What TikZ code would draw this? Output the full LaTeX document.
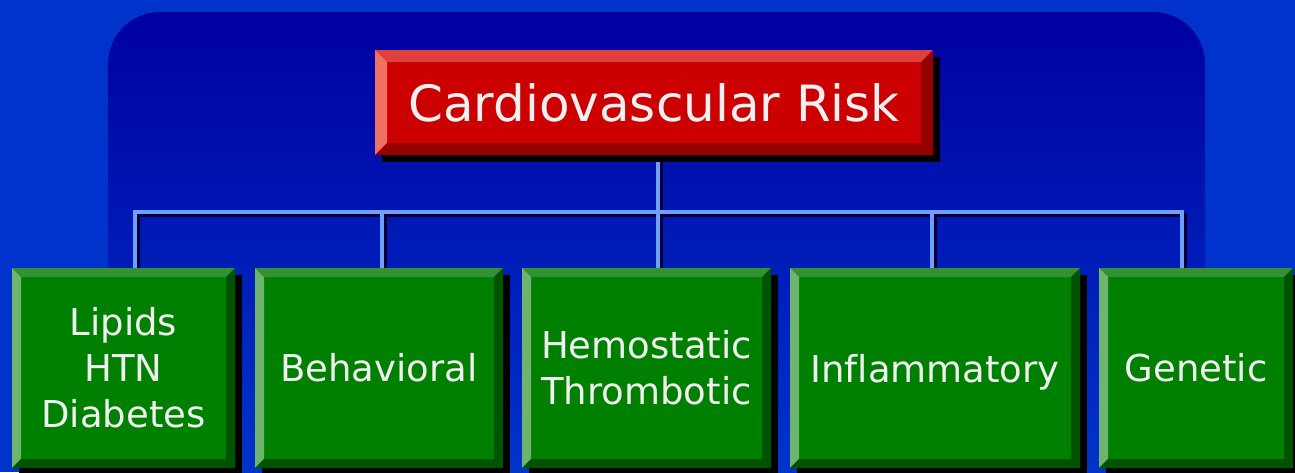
\documentclass[tikz,border=0pt]{standalone}
\usepackage{fontspec}
\setmainfont[Ligatures=NoCommon]{DejaVu Sans}
\usetikzlibrary{shadows,backgrounds}
\definecolor{bgblue}{RGB}{0,51,204}
\definecolor{paneltop}{RGB}{0,0,160}
\definecolor{panelbot}{RGB}{0,62,212}
\definecolor{linkblue}{RGB}{112,160,255}
\definecolor{riskred}{RGB}{204,0,0}
\definecolor{risktop}{RGB}{222,64,64}
\definecolor{riskleft}{RGB}{240,112,100}
\definecolor{riskdark}{RGB}{150,0,0}
\definecolor{factorgreen}{RGB}{0,128,0}
\definecolor{factortop}{RGB}{50,145,50}
\definecolor{factorleft}{RGB}{110,180,110}
\definecolor{factordark}{RGB}{0,84,0}
\tikzset{
  bevel/.style n args={5}{path picture={
    \fill[#1] (path picture bounding box.north west) -- (path picture bounding box.north east)
      -- ([xshift=-#5,yshift=-#5]path picture bounding box.north east) -- ([xshift=#5,yshift=-#5]path picture bounding box.north west) -- cycle;
    \fill[#2] (path picture bounding box.north west) -- ([xshift=#5,yshift=-#5]path picture bounding box.north west)
      -- ([xshift=#5,yshift=#5]path picture bounding box.south west) -- (path picture bounding box.south west) -- cycle;
    \fill[#3] (path picture bounding box.south west) -- (path picture bounding box.south east)
      -- ([xshift=-#5,yshift=#5]path picture bounding box.south east) -- ([xshift=#5,yshift=#5]path picture bounding box.south west) -- cycle;
    \fill[#4] (path picture bounding box.north east) -- (path picture bounding box.south east)
      -- ([xshift=-#5,yshift=#5]path picture bounding box.south east) -- ([xshift=-#5,yshift=-#5]path picture bounding box.north east) -- cycle;
  }},
  riskbox/.style={fill=riskred, text=white!94!black, minimum width=558pt, minimum height=105pt, inner sep=0pt,
    font=\fontsize{50}{60}\selectfont, bevel={risktop}{riskleft}{riskdark}{riskdark}{12pt},
    drop shadow={shadow xshift=7pt, shadow yshift=-7pt, fill=black, opacity=1}},
  factorbox/.style={fill=factorgreen, text=white!94!black, minimum height=200pt, inner sep=0pt, align=center,
    font=\fontsize{37}{46}\selectfont, bevel={factortop}{factorleft}{factordark}{factordark}{9pt},
    drop shadow={shadow xshift=7pt, shadow yshift=-7pt, fill=black, opacity=1}},
  link/.style={draw=linkblue, line width=4pt},
  linkshadow/.style={draw=black!80!blue, line width=4pt, transform canvas={shift={(3pt,-3pt)}}},
}
\begin{document}
\begin{tikzpicture}[x=1pt, y=-1pt]
  \useasboundingbox (0,0) rectangle (1295,472);
  \clip (0,0) rectangle (1295,472);

  % Top: the risk box
  \node[riskbox] (risk) at (654,102.5) {Cardiovascular Risk};

  % Row of risk factors
  \node[factorbox, minimum width=223pt] (lipids) at (123.5,368) {Lipids\\HTN\\Diabetes};
  \node[factorbox, minimum width=248pt] (behav) at (379,368) {Behavioral};
  \node[factorbox, minimum width=249pt] (hemo) at (646.5,368) {Hemostatic\\Thrombotic};
  \node[factorbox, minimum width=290pt, text depth=0pt] (inflam) at (935,368) {Inflammatory};
  \node[factorbox, minimum width=194pt] (genetic) at (1196,368) {Genetic};

  % Junctions on the bar
  \coordinate (j1) at (135,212);
  \coordinate (j2) at (382,212);
  \coordinate (j3) at (658,212);
  \coordinate (j4) at (932,212);
  \coordinate (j5) at (1182,212);

  \begin{scope}[on background layer]
    \fill[bgblue] (0,0) rectangle (1295,472);
    \shade[top color=paneltop, bottom color=panelbot, rounded corners=52pt] (108,12) rectangle (1205,560);

    % Connectors
    \draw[linkshadow] (j3 |- risk.south) -- (j3);
    \draw[linkshadow] (j1 |- lipids.north) -- (j1) -- (j5) -- (j5 |- genetic.north);
    \foreach \j/\b in {j2/behav,j3/hemo,j4/inflam}
      \draw[linkshadow] (\j) -- (\j |- \b.north);
    \draw[link] (j3 |- risk.south) -- (j3);
    \draw[link] (j1 |- lipids.north) -- (j1) -- (j5) -- (j5 |- genetic.north);
    \foreach \j/\b in {j2/behav,j3/hemo,j4/inflam}
      \draw[link] (\j) -- (\j |- \b.north);
  \end{scope}
\end{tikzpicture}
\end{document}
